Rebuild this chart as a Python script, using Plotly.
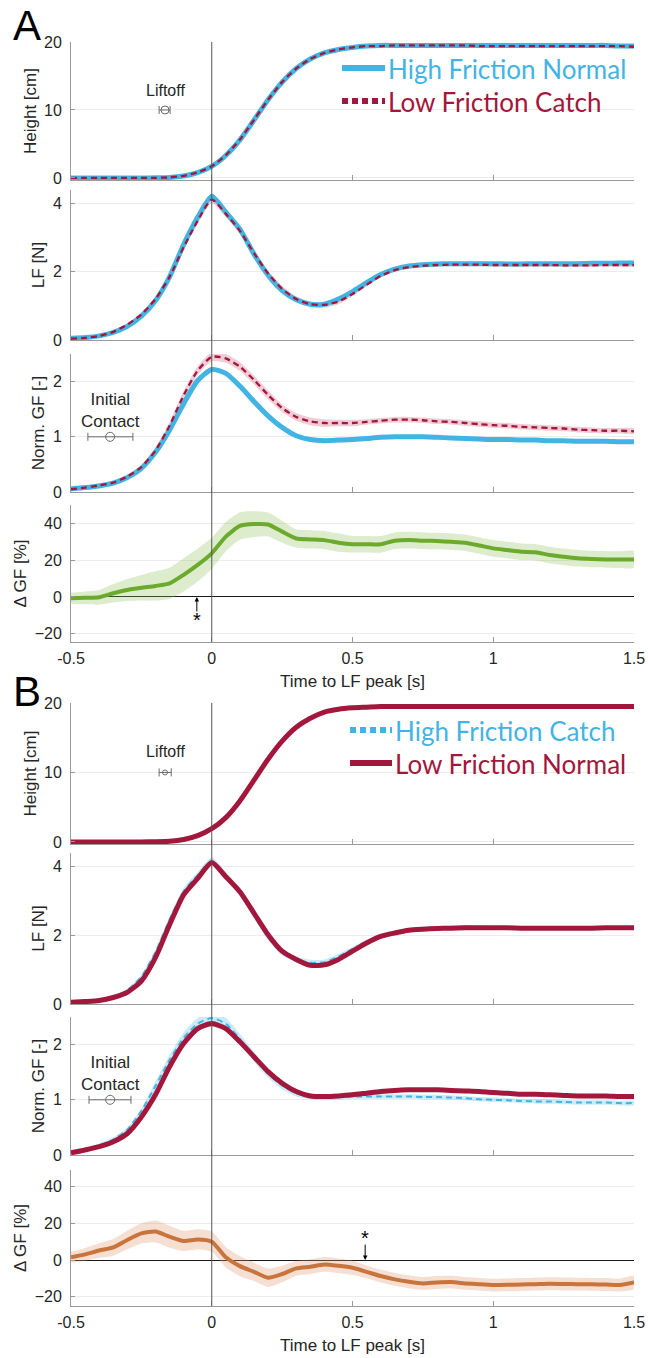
import plotly.graph_objects as go

# ---------------- data ----------------
T = [-0.5, -0.45, -0.4, -0.35, -0.3, -0.25, -0.2, -0.15, -0.1, -0.05, 0.0,
     0.05, 0.1, 0.15, 0.2, 0.25, 0.3, 0.35, 0.4, 0.45, 0.5,
     0.55, 0.6, 0.65, 0.7, 0.75, 0.8, 0.85, 0.9, 0.95, 1.0,
     1.05, 1.1, 1.15, 1.2, 1.25, 1.3, 1.35, 1.4, 1.45, 1.5]

# Panel A
a_height_hfn = [0.0, 0.0, 0.0, 0.0, 0.0, 0.0, 0.02, 0.08, 0.3, 0.8, 1.7, 3.3, 5.6, 8.5, 11.5, 14.1, 16.1, 17.5, 18.4, 18.9, 19.2,
                19.4, 19.5, 19.5, 19.5, 19.5, 19.5, 19.5, 19.5, 19.5, 19.5, 19.5, 19.5, 19.5, 19.5, 19.5, 19.5, 19.5, 19.5, 19.4, 19.4]
a_height_lfc = [0.0, 0.0, 0.0, 0.0, 0.0, 0.0, 0.02, 0.09, 0.32, 0.82, 1.72, 3.35, 5.65, 8.55, 11.5, 14.1, 16.1, 17.5, 18.4, 18.9, 19.2,
                19.4, 19.4, 19.5, 19.5, 19.5, 19.5, 19.5, 19.5, 19.4, 19.4, 19.4, 19.4, 19.4, 19.4, 19.4, 19.4, 19.4, 19.4, 19.4, 19.3]
a_height_hfn_se = [0.15] * 6 + [0.2, 0.2, 0.25, 0.3, 0.3, 0.35, 0.35, 0.35, 0.35, 0.35, 0.3, 0.3, 0.3, 0.25, 0.25] + [0.25] * 20
a_height_lfc_se = [0.15] * 6 + [0.2, 0.2, 0.25, 0.3, 0.3, 0.35, 0.35, 0.35, 0.35, 0.35, 0.3, 0.3, 0.3, 0.25, 0.25] + [0.25] * 20

a_lf_hfn = [0.05, 0.07, 0.12, 0.22, 0.40, 0.70, 1.15, 1.85, 2.80, 3.60, 4.22, 3.75, 3.25, 2.52, 1.90, 1.45, 1.18, 1.05, 1.05, 1.20, 1.42,
            1.68, 1.92, 2.08, 2.17, 2.21, 2.23, 2.24, 2.24, 2.24, 2.24, 2.23, 2.23, 2.24, 2.24, 2.24, 2.24, 2.25, 2.25, 2.26, 2.26]
a_lf_lfc = [0.04, 0.06, 0.12, 0.24, 0.45, 0.75, 1.20, 1.85, 2.72, 3.50, 4.12, 3.70, 3.20, 2.55, 1.95, 1.50, 1.20, 1.05, 1.03, 1.13, 1.35,
            1.62, 1.88, 2.05, 2.14, 2.18, 2.20, 2.21, 2.21, 2.21, 2.20, 2.20, 2.20, 2.20, 2.20, 2.19, 2.19, 2.19, 2.20, 2.20, 2.20]
a_lf_hfn_se = [0.04] * 6 + [0.06, 0.07, 0.08, 0.08, 0.08, 0.08, 0.08, 0.08, 0.07, 0.07, 0.06, 0.06, 0.06, 0.06, 0.06] + [0.05] * 20
a_lf_lfc_se = [0.05] * 6 + [0.08, 0.09, 0.1, 0.1, 0.1, 0.1, 0.1, 0.1, 0.09, 0.09, 0.08, 0.08, 0.08, 0.08, 0.07] + [0.05] * 20

a_gf_hfn = [0.06, 0.08, 0.11, 0.16, 0.26, 0.43, 0.72, 1.12, 1.60, 2.02, 2.22, 2.15, 1.92, 1.64, 1.38, 1.17, 1.02, 0.95, 0.93, 0.94, 0.95,
            0.97, 0.99, 1.00, 1.00, 1.00, 0.99, 0.98, 0.97, 0.96, 0.95, 0.95, 0.94, 0.94, 0.93, 0.93, 0.92, 0.92, 0.92, 0.91, 0.91]
a_gf_lfc = [0.05, 0.08, 0.12, 0.17, 0.28, 0.45, 0.75, 1.20, 1.75, 2.20, 2.45, 2.42, 2.27, 2.03, 1.76, 1.52, 1.36, 1.28, 1.25, 1.25, 1.25,
            1.27, 1.29, 1.31, 1.31, 1.30, 1.28, 1.27, 1.25, 1.23, 1.21, 1.20, 1.18, 1.17, 1.16, 1.15, 1.13, 1.12, 1.11, 1.11, 1.10]
a_gf_hfn_se = [0.03] * 6 + [0.04] * 15 + [0.03] * 20
a_gf_lfc_se = [0.04] * 6 + [0.06, 0.07, 0.08, 0.08, 0.08, 0.08, 0.08, 0.08, 0.08, 0.07, 0.07, 0.07, 0.07, 0.06, 0.06] + [0.05] * 20

a_dgf = [-0.7, -0.5, -0.2, 2.0, 3.8, 5.0, 6.0, 7.4, 12.0, 17.4, 23.7, 32.8, 38.6, 39.6, 39.4, 35.5, 31.8, 31.3, 30.9, 29.5, 28.7,
         28.7, 28.6, 30.6, 30.9, 30.6, 30.4, 30.0, 29.5, 28.0, 26.4, 25.5, 24.6, 24.3, 22.8, 21.8, 21.0, 20.6, 20.4, 20.3, 20.4]
a_dgf_se = [3.0, 3.5, 4.0, 5.0, 6.0, 7.0, 8.0, 8.5, 9.0, 9.0, 8.5, 8.0, 7.5, 7.0, 6.5, 6.0, 5.0, 5.0, 5.0, 5.0, 4.5,
            4.5, 4.5, 4.5, 4.5, 4.5, 4.5, 4.5, 4.5, 4.5, 4.5, 4.5, 4.5, 4.5, 4.5, 4.5, 4.5, 4.5, 4.5, 4.5, 4.5]

# Panel B
b_height_lfn = [0.0, 0.0, 0.0, 0.0, 0.0, 0.0, 0.03, 0.1, 0.35, 0.9, 1.9, 3.5, 5.9, 8.9, 11.9, 14.5, 16.5, 17.8, 18.7, 19.1, 19.3,
                19.4, 19.5, 19.5, 19.5, 19.5, 19.5, 19.5, 19.5, 19.5, 19.5, 19.5, 19.5, 19.5, 19.5, 19.5, 19.5, 19.5, 19.5, 19.5, 19.5]
b_height_hfc = [0.0, 0.0, 0.0, 0.0, 0.0, 0.0, 0.03, 0.1, 0.35, 0.9, 1.9, 3.5, 5.9, 8.9, 11.9, 14.5, 16.5, 17.8, 18.7, 19.1, 19.3,
                19.4, 19.5, 19.5, 19.5, 19.5, 19.5, 19.5, 19.5, 19.5, 19.5, 19.5, 19.5, 19.5, 19.5, 19.5, 19.5, 19.5, 19.5, 19.5, 19.5]
b_height_lfn_se = [0.1] * 41
b_height_hfc_se = [0.15] * 41

b_lf_lfn = [0.05, 0.07, 0.10, 0.19, 0.34, 0.67, 1.35, 2.31, 3.18, 3.66, 4.12, 3.71, 3.27, 2.65, 2.02, 1.54, 1.30, 1.13, 1.14, 1.30, 1.54,
            1.78, 1.97, 2.07, 2.15, 2.18, 2.20, 2.21, 2.22, 2.22, 2.22, 2.22, 2.21, 2.21, 2.21, 2.21, 2.21, 2.21, 2.22, 2.22, 2.22]
b_lf_hfc = [0.05, 0.07, 0.11, 0.21, 0.40, 0.80, 1.50, 2.45, 3.28, 3.75, 4.15, 3.75, 3.25, 2.60, 1.95, 1.50, 1.30, 1.20, 1.22, 1.38, 1.60,
            1.82, 1.99, 2.09, 2.16, 2.20, 2.22, 2.24, 2.25, 2.24, 2.23, 2.22, 2.22, 2.22, 2.22, 2.22, 2.22, 2.22, 2.22, 2.22, 2.22]
b_lf_lfn_se = [0.04] * 6 + [0.06, 0.07, 0.07, 0.07, 0.07, 0.07, 0.07, 0.07, 0.06, 0.06, 0.06, 0.06, 0.06, 0.05, 0.05] + [0.04] * 20
b_lf_hfc_se = [0.05] * 6 + [0.09, 0.1, 0.1, 0.1, 0.12, 0.1, 0.1, 0.1, 0.09, 0.09, 0.09, 0.09, 0.08, 0.08, 0.07] + [0.05] * 20

b_gf_lfn = [0.04, 0.09, 0.15, 0.24, 0.39, 0.69, 1.09, 1.60, 2.02, 2.29, 2.38, 2.29, 2.05, 1.78, 1.51, 1.30, 1.15, 1.07, 1.06, 1.07, 1.09,
            1.12, 1.15, 1.17, 1.18, 1.18, 1.18, 1.17, 1.16, 1.15, 1.13, 1.12, 1.10, 1.10, 1.09, 1.08, 1.07, 1.07, 1.07, 1.06, 1.06]
b_gf_hfc = [0.05, 0.10, 0.17, 0.28, 0.46, 0.80, 1.25, 1.72, 2.12, 2.38, 2.48, 2.38, 2.10, 1.78, 1.48, 1.26, 1.12, 1.06, 1.05, 1.05, 1.06,
            1.06, 1.06, 1.06, 1.06, 1.05, 1.05, 1.04, 1.03, 1.01, 1.00, 0.99, 0.98, 0.97, 0.97, 0.96, 0.95, 0.95, 0.95, 0.94, 0.94]
b_gf_lfn_se = [0.03] * 6 + [0.05, 0.05, 0.05, 0.05, 0.05, 0.05, 0.05, 0.05, 0.04, 0.04, 0.04, 0.04, 0.04, 0.03, 0.03] + [0.03] * 20
b_gf_hfc_se = [0.04] * 6 + [0.08, 0.09, 0.1, 0.1, 0.1, 0.1, 0.09, 0.09, 0.08, 0.07, 0.06, 0.05, 0.05, 0.05, 0.04] + [0.04] * 20

b_dgf = [1.5, 3.1, 5.2, 6.9, 10.9, 14.5, 15.5, 12.7, 10.4, 11.2, 10.0, 1.5, -3.3, -6.4, -9.6, -7.6, -4.5, -3.6, -2.4, -3.1, -4.2,
         -6.4, -8.7, -10.5, -11.8, -12.7, -12.2, -12.0, -12.7, -13.2, -13.6, -13.5, -13.3, -13.1, -12.9, -13.0, -13.1, -13.2, -13.3, -13.6, -12.2]
b_dgf_se = [3.0, 3.5, 4.0, 4.5, 5.0, 5.5, 6.0, 6.0, 5.5, 5.5, 5.5, 5.5, 5.5, 5.0, 5.0, 4.5, 4.0, 4.0, 4.0, 4.0, 4.0,
            3.5, 3.5, 3.5, 3.5, 3.5, 3.5, 3.5, 3.5, 3.5, 3.5, 3.5, 3.5, 3.5, 3.5, 3.5, 3.5, 3.5, 3.5, 3.5, 3.5]

# Event markers (mean time, minus error, plus error, level)
liftoff_a = dict(t=-0.166, lo=0.021, hi=0.018, y=10)
liftoff_b = dict(t=-0.166, lo=0.021, hi=0.022, y=10)
contact_a = dict(t=-0.361, lo=0.079, hi=0.081, y=1)
contact_b = dict(t=-0.361, lo=0.075, hi=0.074, y=1)
sig_a_t = -0.053
sig_b_t = 0.545

x_ticks = [-0.5, 0, 0.5, 1, 1.5]
x_ticklabels = ["-0.5", "0", "0.5", "1", "1.5"]
y_titles = ["Height [cm]", "LF [N]", "Norm. GF [-]", "Δ GF [%]"]
y_tickvals = [[0, 10, 20], [0, 2, 4], [0, 1, 2], [-20, 0, 20, 40]]

legend_a = ["High Friction Normal", "Low Friction Catch"]
legend_b = ["High Friction Catch", "Low Friction Normal"]

# ---------------- styling ----------------
W, H = 648, 1358
BLUE = "#42B4E4"
BLUE_BAND = "rgba(66,180,228,0.28)"
RED = "#A3173C"
RED_BAND = "rgba(205,90,120,0.30)"
GREEN = "#6BAA2C"
GREEN_BAND = "rgba(140,192,85,0.30)"
ORANGE = "#C8743C"
ORANGE_BAND = "rgba(222,150,110,0.30)"
AXC = "#9a9a9a"
TXT = "#262626"
FONT = "Liberation Sans, Arial, sans-serif"

XDOM = [71 / W, 634 / W]
boxes = [(42, 180), (190, 340), (354, 492), (505, 642),
         (703, 844), (853, 1004), (1017, 1155), (1170, 1306)]
yranges = [[-0.3, 20], [0, 4.4], [0, 2.5], [-24.5, 50],
           [-0.3, 20], [0, 4.4], [0, 2.5], [-25, 49]]

fig = go.Figure()


def band(k, mean, se, color):
    up = [m + s for m, s in zip(mean, se)]
    lo = [m - s for m, s in zip(mean, se)]
    fig.add_trace(go.Scatter(x=T + T[::-1], y=up + lo[::-1], fill="toself", fillcolor=color,
                             line=dict(width=0, shape="spline", smoothing=0.6), mode="lines",
                             xaxis=f"x{k}", yaxis=f"y{k}", hoverinfo="skip", showlegend=False))


def line(k, y, color, width, dash="solid"):
    fig.add_trace(go.Scatter(x=T, y=y, mode="lines",
                             line=dict(color=color, width=width, dash=dash, shape="spline", smoothing=0.6),
                             xaxis=f"x{k}", yaxis=f"y{k}", showlegend=False))


# Panel A
A_sets = [(1, a_height_hfn, a_height_hfn_se, a_height_lfc, a_height_lfc_se),
          (2, a_lf_hfn, a_lf_hfn_se, a_lf_lfc, a_lf_lfc_se),
          (3, a_gf_hfn, a_gf_hfn_se, a_gf_lfc, a_gf_lfc_se)]
for k, hb, hbse, lr, lrse in A_sets:
    band(k, lr, lrse, RED_BAND)
    band(k, hb, hbse, BLUE_BAND)
    line(k, hb, BLUE, 5)
    line(k, lr, RED, 2.3, "6px,4px")
band(4, a_dgf, a_dgf_se, GREEN_BAND)
line(4, a_dgf, GREEN, 4)

# Panel B
B_sets = [(5, b_height_hfc, b_height_hfc_se, b_height_lfn, b_height_lfn_se),
          (6, b_lf_hfc, b_lf_hfc_se, b_lf_lfn, b_lf_lfn_se),
          (7, b_gf_hfc, b_gf_hfc_se, b_gf_lfn, b_gf_lfn_se)]
for k, hb, hbse, lr, lrse in B_sets:
    band(k, hb, hbse, BLUE_BAND)
    band(k, lr, lrse, RED_BAND)
    line(k, hb, BLUE, 2, "6px,4px")
    line(k, lr, RED, 5)
band(8, b_dgf, b_dgf_se, ORANGE_BAND)
line(8, b_dgf, ORANGE, 4)


# Event markers with horizontal error bars
def event(k, ev, size):
    fig.add_trace(go.Scatter(x=[ev["t"]], y=[ev["y"]], mode="markers",
                             marker=dict(symbol="circle-open", size=size, color="#6a6a6a", line=dict(width=1)),
                             error_x=dict(type="data", symmetric=False, array=[ev["hi"]], arrayminus=[ev["lo"]],
                                          color="#6a6a6a", thickness=1, width=4),
                             xaxis=f"x{k}", yaxis=f"y{k}", hoverinfo="skip", showlegend=False))


event(1, liftoff_a, 8)
event(5, liftoff_b, 5)
event(3, contact_a, 9)
event(7, contact_b, 9)

# ---------------- axes ----------------
layout = dict(width=W, height=H, margin=dict(l=0, r=0, t=0, b=0, autoexpand=False),
              paper_bgcolor="white", plot_bgcolor="white", showlegend=False,
              font=dict(family=FONT, color=TXT, size=16))
for i in range(8):
    k = i + 1
    top, bot = boxes[i]
    row = i % 4
    layout[f"xaxis{k}"] = dict(domain=XDOM, range=[-0.5, 1.5], anchor=f"y{k}", automargin=False,
                               tickvals=x_ticks, ticktext=x_ticklabels,
                               showticklabels=(row == 3), ticks="inside", ticklen=5, tickcolor=AXC,
                               showline=True, linecolor=AXC, linewidth=1, showgrid=False, zeroline=False,
                               tickfont=dict(size=16, color=TXT), ticklabelstandoff=2,
                               title=dict(text="Time to LF peak [s]" if row == 3 else "",
                                          font=dict(size=17, color=TXT), standoff=8))
    layout[f"yaxis{k}"] = dict(domain=[1 - bot / H, 1 - top / H], range=yranges[i], anchor=f"x{k}",
                               automargin=False,
                               tickvals=y_tickvals[row], ticks="inside", ticklen=4, tickcolor=AXC,
                               showline=True, linecolor=AXC, linewidth=1,
                               showgrid=True, gridcolor="#ececec", gridwidth=1,
                               zeroline=(row == 3), zerolinecolor="#1a1a1a", zerolinewidth=1,
                               tickfont=dict(size=16, color=TXT), ticklabelstandoff=5,
                               title=dict(text=y_titles[row], font=dict(size=17, color=TXT), standoff=3))
fig.update_layout(**layout)

# vertical lines at LF peak (t = 0) spanning each panel
for top, bot in [(42, 642), (703, 1306)]:
    fig.add_shape(type="line", xref="x", yref="paper", x0=0, x1=0, y0=1 - bot / H, y1=1 - top / H,
                  line=dict(color="#555555", width=1), layer="above")

# panel letters
fig.add_annotation(text="A", xref="paper", yref="paper", x=27 / W, y=1 - 25 / H, showarrow=False,
                   font=dict(size=42, color="black", family=FONT), xanchor="center", yanchor="middle")
fig.add_annotation(text="B", xref="paper", yref="paper", x=27 / W, y=1 - 691 / H, showarrow=False,
                   font=dict(size=42, color="black", family=FONT), xanchor="center", yanchor="middle")

# text labels for events
fig.add_annotation(text="Liftoff", xref="x1", yref="y1", x=liftoff_a["t"], y=12.9, showarrow=False,
                   font=dict(size=16, color=TXT))
fig.add_annotation(text="Liftoff", xref="x5", yref="y5", x=liftoff_b["t"], y=13.0, showarrow=False,
                   font=dict(size=16, color=TXT))
fig.add_annotation(text="Initial<br>Contact", xref="x3", yref="y3", x=contact_a["t"], y=1.48, showarrow=False,
                   font=dict(size=17, color=TXT))
fig.add_annotation(text="Initial<br>Contact", xref="x7", yref="y7", x=contact_b["t"], y=1.48, showarrow=False,
                   font=dict(size=17, color=TXT))

# significance arrows
fig.add_annotation(x=sig_a_t, y=0, xref="x4", yref="y4", ax=0, ay=16, text="", showarrow=True,
                   arrowhead=2, arrowsize=0.9, arrowwidth=1, arrowcolor="black")
fig.add_annotation(x=sig_a_t, y=-12.5, xref="x4", yref="y4", text="*", showarrow=False,
                   font=dict(size=20, color="black"), yanchor="middle")
fig.add_annotation(x=sig_b_t, y=0, xref="x8", yref="y8", ax=0, ay=-17, text="", showarrow=True,
                   arrowhead=2, arrowsize=0.9, arrowwidth=1, arrowcolor="black")
fig.add_annotation(x=sig_b_t, y=12.0, xref="x8", yref="y8", text="*", showarrow=False,
                   font=dict(size=20, color="black"), yanchor="middle")

# legends (drawn as samples + coloured text)
LFONT = "Lato, Open Sans, sans-serif"


def legend_entry(x0, x1, y, color, dash, text):
    fig.add_shape(type="line", xref="paper", yref="paper", x0=x0 / W, x1=x1 / W, y0=1 - y / H, y1=1 - y / H,
                  line=dict(color=color, width=6, dash=dash))
    fig.add_annotation(text=text, xref="paper", yref="paper", x=(x1 + 1) / W, y=1 - (y + 1) / H,
                       xanchor="left", yanchor="middle", showarrow=False,
                       font=dict(size=26, color=color, family=LFONT))


legend_entry(342, 385, 68, BLUE, "solid", legend_a[0])
legend_entry(342, 385, 101, RED, "6px,4px", legend_a[1])
legend_entry(350, 392, 730, BLUE, "6px,4px", legend_b[0])
legend_entry(350, 392, 763, RED, "solid", legend_b[1])

fig.write_html("out.html")
